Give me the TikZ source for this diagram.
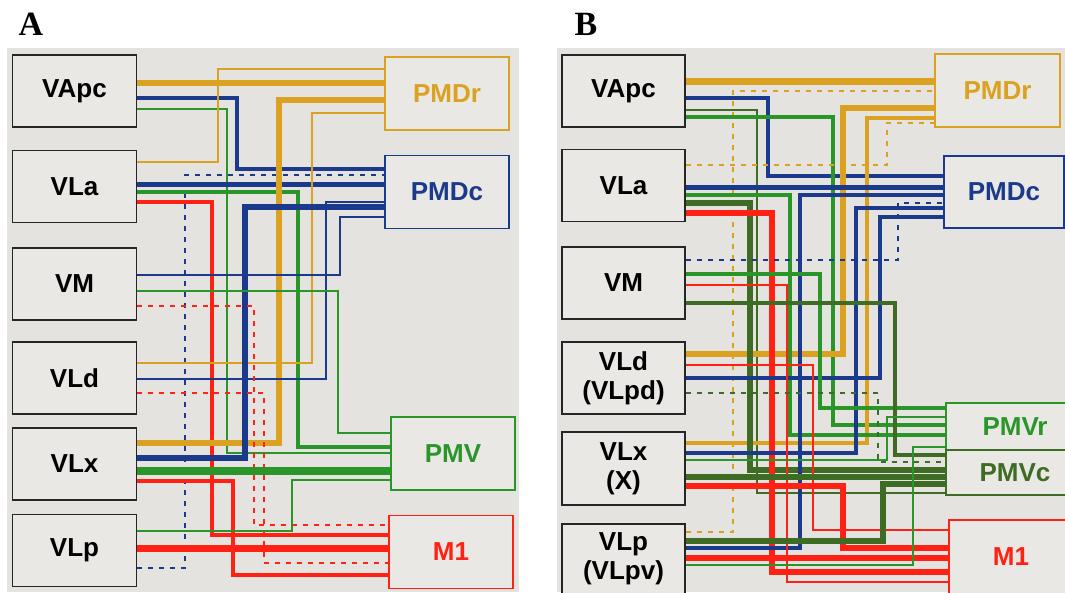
\documentclass[tikz,border=0pt]{standalone}
\usepackage{fontspec}
\setmainfont{Liberation Sans}
\newfontfamily\panelfont{Liberation Serif}
\definecolor{bggray}{RGB}{229,227,223}
\definecolor{boxgray}{RGB}{234,232,228}
\definecolor{ora}{RGB}{218,162,32}
\definecolor{blu}{RGB}{28,58,140}
\definecolor{grn}{RGB}{42,150,42}
\definecolor{dgrn}{RGB}{62,108,36}
\definecolor{rd}{RGB}{255,34,20}

\begin{document}
\begin{tikzpicture}[x=1pt,y=-1pt,
    thal/.style={draw=black!85,line width=1.8pt,fill=boxgray,minimum width=124pt,minimum height=72pt,
      inner sep=0pt,align=center,font=\fontsize{26}{29}\selectfont\bfseries},
    ctx/.style={draw=#1,text=#1,line width=1.4pt,fill=boxgray,minimum width=124pt,minimum height=73pt,
      inner sep=0pt,font=\fontsize{26}{29}\selectfont\bfseries},
    thk/.style={line width=6.5pt},
    med/.style={line width=3.6pt},
    thn/.style={line width=1.3pt},
    dsh/.style={line width=1.6pt,dash pattern=on 5pt off 6pt}]
    \useasboundingbox (0,0) rectangle (1065,592);
    \fill[bggray] (7,48) rectangle (519,592);
    \fill[bggray] (557,48) rectangle (1065,592);
    \node[font={\panelfont\fontsize{34}{36}\selectfont\bfseries}] (labA) at (31,24) {A};
    \node[font={\panelfont\fontsize{34}{36}\selectfont\bfseries}] (labB) at (586,24) {B};

    % panel A
    \node[thal] (VApc) at (74.5,91) {VApc};
    \node[thal] (VLa) at (74.5,186.5) {VLa};
    \node[thal] (VM) at (74.5,284) {VM};
    \node[thal] (VLd) at (74.5,378) {VLd};
    \node[thal] (VLx) at (74.5,464) {VLx};
    \node[thal] (VLp) at (74.5,550.5) {VLp};
    \node[ctx=ora] (PMDr) at (447,93.5) {PMDr};
    \node[ctx=blu] (PMDc) at (447,192) {PMDc};
    \node[ctx=grn] (PMV) at (453,453.5) {PMV};
    \node[ctx=rd] (M1) at (451,552) {M1};

    \draw[ora, thk] (VApc.east |- 0,83) -- (PMDr.west |- 0,83);
    \draw[blu, med] (VApc.east |- 0,98) -| (237,169) -- (PMDc.west |- 0,169);
    \draw[grn, thn] (VApc.east |- 0,109) -| (227,453) -- (PMV.west |- 0,453);
    \draw[ora, thn] (VLa.east |- 0,162) -| (218,69) -- (PMDr.west |- 0,69);
    \draw[blu, dsh] (VLp.east |- 0,568) -| (185,175) -- (PMDc.west |- 0,175);
    \draw[blu, line width=5pt] (VLa.east |- 0,184) -- (PMDc.west |- 0,184);
    \draw[grn, med] (VLa.east |- 0,192) -| (298,447) -- (PMV.west |- 0,447);
    \draw[rd, med] (VLa.east |- 0,202) -| (212,535) -- (M1.west |- 0,535);
    \draw[ora, thk] (VLx.east |- 0,443) -| (279,100) -- (PMDr.west |- 0,100);
    \draw[ora, thn] (VLd.east |- 0,363) -| (312,113) -- (PMDr.west |- 0,113);
    \draw[blu, thk] (VLx.east |- 0,458) -| (245,207) -- (PMDc.west |- 0,207);
    \draw[blu, thn] (VLd.east |- 0,379) -| (326,202) -- (PMDc.west |- 0,202);
    \draw[blu, thn] (VM.east |- 0,275) -| (340,217) -- (PMDc.west |- 0,217);
    \draw[grn, thn] (VM.east |- 0,291) -| (338,433) -- (PMV.west |- 0,433);
    \draw[rd, dsh] (VM.east |- 0,306) -| (254,525) -- (M1.west |- 0,525);
    \draw[rd, dsh] (VLd.east |- 0,393) -| (264,563) -- (M1.west |- 0,563);
    \draw[grn, line width=8pt] (VLx.east |- 0,471) -- (PMV.west |- 0,471);
    \draw[rd, line width=4.5pt] (VLx.east |- 0,481) -| (233,575) -- (M1.west |- 0,575);
    \draw[grn, thn] (VLp.east |- 0,531) -| (292,480) -- (PMV.west |- 0,480);
    \draw[rd, line width=7pt] (VLp.east |- 0,548) -- (M1.west |- 0,548);

    % panel B
    \node[thal, minimum width=123pt] (VApcB) at (623.5,91) {VApc};
    \node[thal, minimum width=123pt] (VLaB) at (623.5,185.5) {VLa};
    \node[thal, minimum width=123pt] (VMB) at (623.5,283) {VM};
    \node[thal, minimum width=123pt] (VLdB) at (623.5,378) {VLd\\(VLpd)};
    \node[thal, minimum width=123pt, minimum height=73pt] (VLxB) at (623.5,468.5) {VLx\\(X)};
    \node[thal, minimum width=123pt, minimum height=70pt] (VLpB) at (623.5,559) {VLp\\(VLpv)};
    \node[ctx=ora, minimum width=125pt] (PMDrB) at (997.5,90.5) {PMDr};
    \node[ctx=blu, minimum width=120pt, minimum height=72pt] (PMDcB) at (1004,192) {PMDc};
    \node[ctx=grn, minimum width=138pt, minimum height=47pt] (PMVrB) at (1015,426.5) {PMVr};
    \node[ctx=dgrn, minimum width=138pt, minimum height=45pt] (PMVcB) at (1015,472.5) {PMVc};
    \node[ctx=rd, minimum width=124pt, minimum height=74pt] (M1B) at (1011,557) {M1};

    \draw[ora, line width=7pt] (VApcB.east |- 0,81) -- (PMDrB.west |- 0,81);
    \draw[ora, dsh] (VLpB.east |- 0,532) -| (733,91) -- (PMDrB.west |- 0,91);
    \draw[blu, med] (VApcB.east |- 0,98) -| (768,176) -- (PMDcB.west |- 0,176);
    \draw[dgrn, thn] (VApcB.east |- 0,110) -| (757,493) -- (PMVcB.west |- 0,493);
    \draw[grn, med] (VApcB.east |- 0,117) -| (833,425) -- (PMVrB.west |- 0,425);
    \draw[ora, thk] (VLdB.east |- 0,354) -| (843,108) -- (PMDrB.west |- 0,108);
    \draw[ora, med] (VLxB.east |- 0,443) -| (867,118) -- (PMDrB.west |- 0,118);
    \draw[ora, dsh] (VLaB.east |- 0,165) -| (887,123) -- (PMDrB.west |- 0,123);
    \draw[blu, line width=5pt] (VLaB.east |- 0,187) -- (PMDcB.west |- 0,187);
    \draw[grn, med] (VLaB.east |- 0,195) -| (790,435) -- (PMVrB.west |- 0,435);
    \draw[dgrn, thk] (VLaB.east |- 0,203) -| (750,470) -- (PMVcB.west |- 0,470);
    \draw[rd, thk] (VLaB.east |- 0,213) -| (772,572) -- (M1B.west |- 0,572);
    \draw[blu, med] (VLpB.east |- 0,548) -| (800,195) -- (PMDcB.west |- 0,195);
    \draw[blu, dsh] (VMB.east |- 0,260) -| (898,203) -- (PMDcB.west |- 0,203);
    \draw[blu, med] (VLxB.east |- 0,453) -| (856,208) -- (PMDcB.west |- 0,208);
    \draw[blu, med] (VLdB.east |- 0,378) -| (880,217) -- (PMDcB.west |- 0,217);
    \draw[grn, med] (VMB.east |- 0,274) -| (820,408) -- (PMVrB.west |- 0,408);
    \draw[rd, thn] (VMB.east |- 0,285) -| (787,582) -- (M1B.west |- 0,582);
    \draw[dgrn, med] (VMB.east |- 0,303) -| (895,455) -- (PMVcB.west |- 0,455);
    \draw[rd, thn] (VLdB.east |- 0,365) -| (813,530) -- (M1B.west |- 0,530);
    \draw[dgrn, dsh] (VLdB.east |- 0,393) -| (878,462) -- (PMVcB.west |- 0,462);
    \draw[grn, thn] (VLxB.east |- 0,460) -| (887,417) -- (PMVrB.west |- 0,417);
    \draw[dgrn, thk] (VLxB.east |- 0,477) -- (PMVcB.west |- 0,477);
    \draw[rd, thk] (VLxB.east |- 0,486) -| (843,548) -- (M1B.west |- 0,548);
    \draw[dgrn, thk] (VLpB.east |- 0,541) -| (883,484) -- (PMVcB.west |- 0,484);
    \draw[rd, thk] (VLpB.east |- 0,558) -- (M1B.west |- 0,558);
    \draw[grn, thn] (VLpB.east |- 0,565) -| (913,447) -- (PMVrB.west |- 0,447);
\end{tikzpicture}
\end{document}
